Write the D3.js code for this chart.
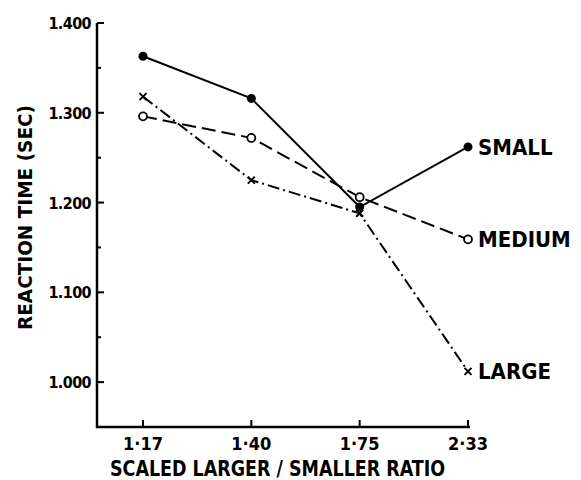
<!DOCTYPE html>
<html><head><meta charset="utf-8">
<script src="https://cdn.jsdelivr.net/npm/d3@7"></script>
<style>body{margin:0;background:#fff}svg{display:block}</style>
</head><body>
<svg id="c" width="581" height="480"></svg>
<script>
const categories = ["1·17", "1·40", "1·75", "2·33"];
const small  = [1.363, 1.316, 1.195, 1.262];
const medium = [1.296, 1.272, 1.206, 1.159];
const large  = [1.318, 1.225, 1.188, 1.012];
const yTicks = [1.0, 1.1, 1.2, 1.3, 1.4];
const yMinor = [1.05, 1.15, 1.25, 1.35];
const seriesNames = ["SMALL", "MEDIUM", "LARGE"];

const svg = d3.select("#c");
const font = "'DejaVu Sans Condensed', 'DejaVu Sans', sans-serif";
const x = d3.scalePoint().domain(categories).range([143, 468]);
const y = d3.scaleLinear().domain([0.95, 1.4]).range([427, 23]);

const g = svg.append("g");
g.append("path").attr("d", `M97,${y(1.4)}V427H470`).attr("fill","none").attr("stroke","#000").attr("stroke-width",2.5);
g.selectAll(".yt").data(yTicks).join("line").attr("x1",97).attr("x2",104)
 .attr("y1",d=>y(d)).attr("y2",d=>y(d)).attr("stroke","#000").attr("stroke-width",2);
g.selectAll(".ym").data(yMinor).join("line").attr("x1",97).attr("x2",101)
 .attr("y1",d=>y(d)).attr("y2",d=>y(d)).attr("stroke","#000").attr("stroke-width",2);
g.selectAll(".yl").data(yTicks).join("text").attr("x",91).attr("y",d=>y(d)+6)
 .attr("text-anchor","end").attr("font-family",font).attr("font-weight","bold")
 .attr("font-size",16).attr("letter-spacing","-0.6").text(d=>d3.format(".3f")(d));
g.selectAll(".xt").data(categories).join("line").attr("x1",d=>x(d)).attr("x2",d=>x(d))
 .attr("y1",427).attr("y2",420).attr("stroke","#000").attr("stroke-width",2);
g.selectAll(".xl").data(categories).join("text").attr("x",d=>x(d)).attr("y",450)
 .attr("text-anchor","middle").attr("font-family",font).attr("font-weight","bold")
 .attr("font-size",18).text(d=>d);
svg.append("text").attr("x",110).attr("y",476)
 .attr("font-family",font).attr("font-weight","bold").attr("font-size",21)
 .attr("textLength",335).attr("lengthAdjust","spacingAndGlyphs").text("SCALED LARGER / SMALLER RATIO");
svg.append("text").attr("transform","translate(32,330) rotate(-90)")
 .attr("font-family",font).attr("font-weight","bold").attr("font-size",19)
 .attr("textLength",225).attr("lengthAdjust","spacingAndGlyphs").text("REACTION TIME (SEC)");

const line = d3.line().x((d,i)=>x(categories[i])).y(d=>y(d));
const data = [
  {name: seriesNames[0], vals: small, dash: null, marker: "filled"},
  {name: seriesNames[1], vals: medium, dash: "14,6", marker: "open"},
  {name: seriesNames[2], vals: large, dash: "12,4,2,4", marker: "x"}
];
data.forEach(s=>{
  svg.append("path").attr("d", line(s.vals)).attr("fill","none").attr("stroke","#000")
    .attr("stroke-width",2).attr("stroke-dasharray", s.dash);
  s.vals.forEach((v,i)=>{
    const cx = x(categories[i]), cy = y(v);
    if (s.marker==="filled") svg.append("circle").attr("cx",cx).attr("cy",cy).attr("r",4.5).attr("fill","#000");
    else if (s.marker==="open") svg.append("circle").attr("cx",cx).attr("cy",cy).attr("r",4).attr("fill","#fff").attr("stroke","#000").attr("stroke-width",1.8);
    else svg.append("path").attr("d",`M${cx-3.5},${cy-3.5}L${cx+3.5},${cy+3.5}M${cx-3.5},${cy+3.5}L${cx+3.5},${cy-3.5}`).attr("stroke","#000").attr("stroke-width",2);
  });
  const last = s.vals[s.vals.length-1];
  svg.append("text").attr("x", x(categories[3])+10).attr("y", y(last)+8)
    .attr("font-family",font).attr("font-weight","bold").attr("font-size",22).text(s.name);
});
</script>
</body></html>
